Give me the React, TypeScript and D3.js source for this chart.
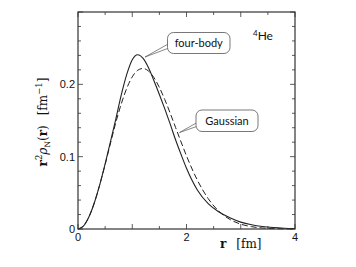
import * as d3 from "d3";

// radius values (fm)
const rValues = [0, 0.1, 0.2, 0.3, 0.4, 0.5, 0.6, 0.7, 0.8, 0.9, 1.0, 1.1, 1.2, 1.3, 1.4, 1.5, 1.6, 1.7, 1.8, 1.9, 2.0, 2.2, 2.4, 2.6, 2.8, 3.0, 3.2, 3.4, 3.6, 3.8, 4.0];

// r^2 rho_N(r), four-body calculation
const fourBody = [0, 0.004, 0.0165, 0.036, 0.061, 0.09, 0.121, 0.153, 0.186, 0.214, 0.234, 0.241, 0.236, 0.223, 0.205, 0.186, 0.166, 0.145, 0.123, 0.103, 0.084, 0.054, 0.035, 0.0235, 0.0155, 0.0095, 0.0058, 0.0034, 0.002, 0.0011, 0.0006];

// r^2 rho_N(r), Gaussian
const gaussian = [0, 0.0042, 0.0166, 0.036, 0.061, 0.089, 0.119, 0.148, 0.1736, 0.1948, 0.2103, 0.2194, 0.222, 0.2183, 0.2093, 0.1957, 0.1789, 0.16, 0.1401, 0.1203, 0.1011, 0.0676, 0.042, 0.0243, 0.0132, 0.0067, 0.0032, 0.0014, 0.0006, 0.0002, 0.0001];

const xTickLabels = [0, 2, 4];
const yTickLabels = [0, 0.1, 0.2];

export default function App() {
  const width = 356;
  const height = 267;
  const x = d3.scaleLinear().domain([0, 4]).range([78, 295]);
  const y = d3.scaleLinear().domain([0, 0.3]).range([229, 12]);

  const line = d3
    .line<number>()
    .x((_, i) => x(rValues[i]))
    .y((d) => y(d))
    .curve(d3.curveMonotoneX);

  const xTicks = d3.range(0, 4.001, 0.5);
  const yTicks = d3.range(0, 0.3001, 0.02);
  const [x0, x1] = x.range();
  const [y0, y1] = y.range();
  const stroke = "#333";
  const tickFont = "'Liberation Sans', Arial, sans-serif";
  const labelFont = "Lato, 'Open Sans', sans-serif";
  const serif = "'DejaVu Serif', 'Liberation Serif', serif";

  return (
    <svg
      width={width}
      height={height}
      style={{ position: "absolute", left: 0, top: 0, background: "#fff" }}
    >
      {/* ticks */}
      {xTicks.map((t) => {
        const len = Math.abs(t - Math.round(t)) < 1e-6 ? 5 : 3;
        return (
          <g key={"xt" + t}>
            <line x1={x(t)} x2={x(t)} y1={y0} y2={y0 - len} stroke={stroke} strokeWidth={0.8} />
            <line x1={x(t)} x2={x(t)} y1={y1} y2={y1 + len} stroke={stroke} strokeWidth={0.8} />
          </g>
        );
      })}
      {yTicks.map((t) => {
        const major = Math.abs(t * 10 - Math.round(t * 10)) < 1e-6;
        const len = major ? 5 : 3;
        return (
          <g key={"yt" + t}>
            <line x1={x0} x2={x0 + len} y1={y(t)} y2={y(t)} stroke={stroke} strokeWidth={0.8} />
            <line x1={x1} x2={x1 - len} y1={y(t)} y2={y(t)} stroke={stroke} strokeWidth={0.8} />
          </g>
        );
      })}

      {/* curves */}
      <path d={line(gaussian) || ""} fill="none" stroke="#222" strokeWidth={1} strokeDasharray="6,3" />
      <path d={line(fourBody) || ""} fill="none" stroke="#222" strokeWidth={1.1} />

      {/* frame */}
      <rect x={x0} y={y1} width={x1 - x0} height={y0 - y1} fill="none" stroke={stroke} strokeWidth={1.2} />

      {/* tick labels */}
      {xTickLabels.map((t) => (
        <text key={"xl" + t} x={x(t)} y={241} textAnchor="middle" fontFamily={tickFont} fontSize={11} fill="#111">
          {t}
        </text>
      ))}
      {yTickLabels.map((t) => (
        <text key={"yl" + t} x={75} y={y(t) + 4} textAnchor="end" fontFamily={tickFont} fontSize={11} fill="#111">
          {t}
        </text>
      ))}

      {/* axis titles */}
      <text x={220} y={248} fontFamily={serif} fontSize={12} fill="#111">
        <tspan fontWeight="bold">r</tspan>
        <tspan dx={10}>[fm]</tspan>
      </text>
      <text
        transform="translate(47,122) rotate(-90)"
        textAnchor="middle"
        fontFamily={serif}
        fontSize={12}
        fill="#111"
      >
        <tspan fontWeight="bold">r</tspan>
        <tspan fontSize={8.5} dy={-5}>2</tspan>
        <tspan dy={5} fontStyle="italic">ρ</tspan>
        <tspan fontSize={7.5} dy={3}>N</tspan>
        <tspan dy={-3}>(</tspan>
        <tspan fontWeight="bold">r</tspan>
        <tspan>)</tspan>
        <tspan dx={10}>[fm</tspan>
        <tspan fontSize={8.5} dy={-5}>−1</tspan>
        <tspan dy={5}>]</tspan>
      </text>

      {/* 4He */}
      <text x={253} y={40} fontFamily={labelFont} fontSize={12} fill="#111">
        <tspan fontSize={8} dy={-4}>4</tspan>
        <tspan dy={4}>He</tspan>
      </text>

      {/* four-body callout */}
      <polygon points="169,43.5 145,57 169,48" fill="#fff" stroke="#555" strokeWidth={0.7} />
      <rect x={167.5} y={32.5} width={62.5} height={21} rx={6} fill="#fff" stroke="#555" strokeWidth={0.8} />
      <text x={198.7} y={47} textAnchor="middle" fontFamily={labelFont} fontSize={11} fill="#111">
        four-body
      </text>

      {/* Gaussian callout */}
      <polygon points="198,122 179.5,132.5 198,126" fill="#fff" stroke="#555" strokeWidth={0.7} />
      <rect x={196} y={110} width={62} height={21.5} rx={6} fill="#fff" stroke="#555" strokeWidth={0.8} />
      <text x={227} y={124.5} textAnchor="middle" fontFamily={labelFont} fontSize={11} fill="#111">
        Gaussian
      </text>
    </svg>
  );
}
